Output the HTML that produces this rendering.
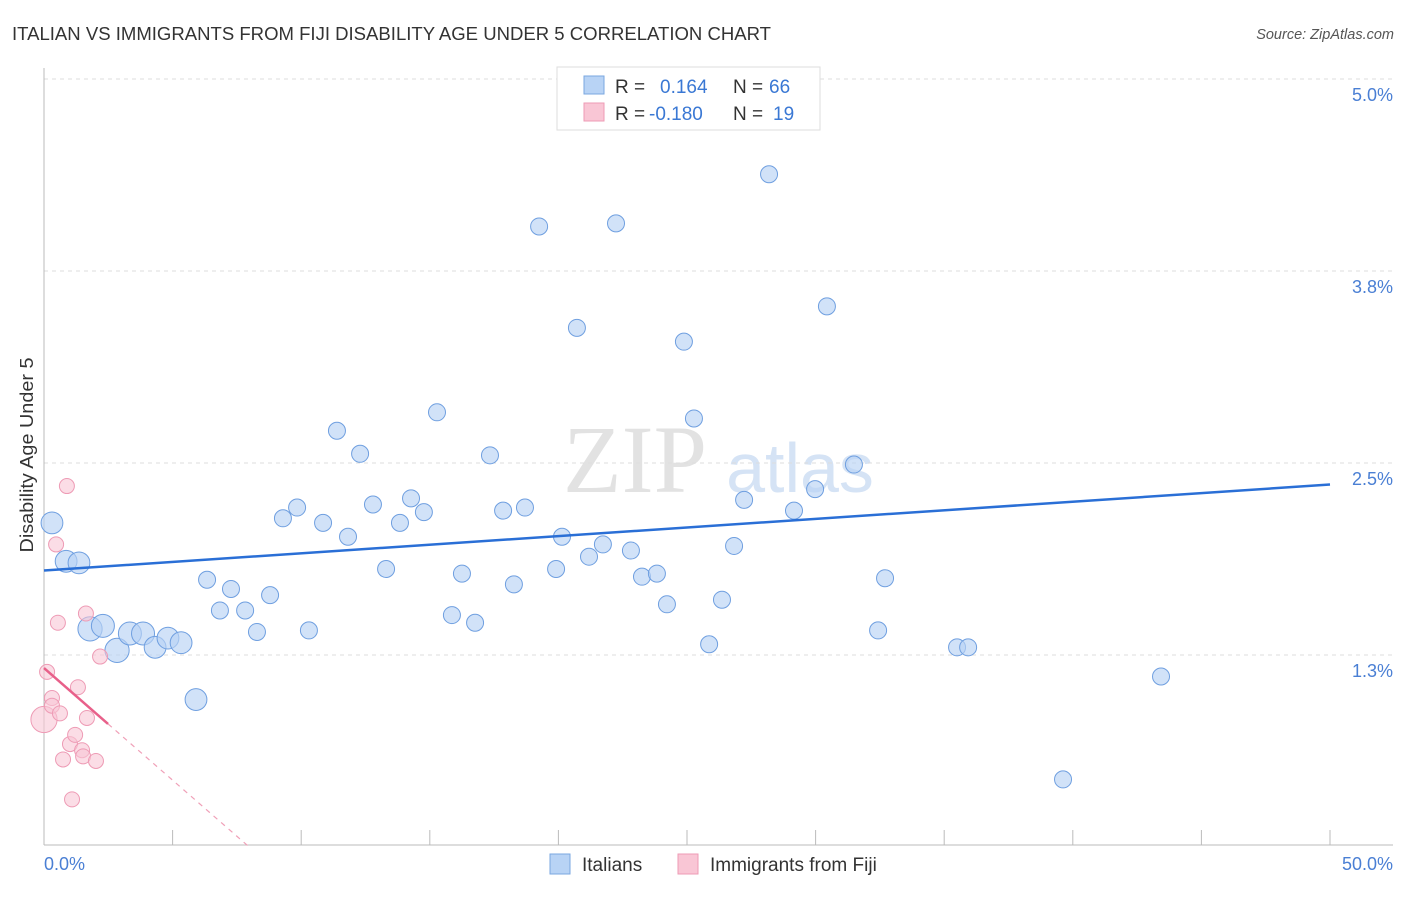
<!DOCTYPE html>
<html><head><meta charset="utf-8"><style>
body{margin:0;background:#fff;font-family:"Liberation Sans",sans-serif;}
svg text{font-family:"Liberation Sans",sans-serif;}
</style></head><body>
<svg width="1406" height="892" viewBox="0 0 1406 892">
<text x="12" y="40" font-size="18" fill="#333" textLength="759" lengthAdjust="spacingAndGlyphs">ITALIAN VS IMMIGRANTS FROM FIJI DISABILITY AGE UNDER 5 CORRELATION CHART</text>
<text x="1394" y="39" font-size="14.5" fill="#555" font-style="italic" text-anchor="end">Source: ZipAtlas.com</text>
<text x="33" y="455" font-size="18" fill="#333" text-anchor="middle" textLength="195" lengthAdjust="spacingAndGlyphs" transform="rotate(-90 33 455)">Disability Age Under 5</text>
<g>
<text x="635" y="492" font-size="96" fill="#e2e2e2" style="font-family:'Liberation Serif',serif" text-anchor="middle">ZIP</text>
<text x="800" y="492" font-size="70" fill="#d5e3f5" text-anchor="middle">atlas</text>
</g>
<g id="grid"></g>
<g id="axes"></g>
<g id="marks"></g>
<g>
<rect x="557" y="67" width="263" height="63" fill="#fff" stroke="#ddd"/>
<rect x="584" y="76" width="20" height="18" fill="#b8d3f5" stroke="#7aa7e0"/>
<text x="615" y="93" font-size="19" fill="#333">R =</text>
<text x="660" y="93" font-size="19" fill="#3a78d4">0.164</text>
<text x="733" y="93" font-size="19" fill="#333">N =</text>
<text x="769" y="93" font-size="19" fill="#3a78d4">66</text>
<rect x="584" y="103" width="20" height="18" fill="#f9c6d5" stroke="#ee9bb5"/>
<text x="615" y="120" font-size="19" fill="#333">R =</text>
<text x="649" y="120" font-size="19" fill="#3a78d4">-0.180</text>
<text x="733" y="120" font-size="19" fill="#333">N =</text>
<text x="773" y="120" font-size="19" fill="#3a78d4">19</text>
</g>
<g>
<rect x="550" y="854" width="20" height="20" fill="#b8d3f5" stroke="#7aa7e0"/>
<text x="582" y="871" font-size="19" fill="#333">Italians</text>
<rect x="678" y="854" width="20" height="20" fill="#f9c6d5" stroke="#ee9bb5"/>
<text x="710" y="871" font-size="19" fill="#333">Immigrants from Fiji</text>
</g>
</svg>
<script>
const blueX=[0.31,0.86,1.36,1.79,2.29,2.84,3.34,3.85,4.32,4.82,5.33,5.91,6.34,6.84,7.27,7.82,8.28,8.79,9.29,9.84,10.30,10.85,11.39,11.82,12.29,12.79,13.30,13.84,14.27,14.77,15.28,15.86,16.25,16.76,17.34,17.85,18.27,18.70,19.25,19.91,20.14,20.72,21.19,21.73,22.24,22.82,23.25,23.83,24.22,24.88,25.27,25.86,26.36,26.83,27.22,28.19,29.16,29.98,30.44,31.49,32.43,32.70,35.50,35.93,39.62,43.43];
const blueY=[2.11,1.86,1.85,1.42,1.44,1.28,1.39,1.39,1.30,1.36,1.33,0.96,1.74,1.54,1.68,1.54,1.40,1.64,2.14,2.21,1.41,2.11,2.71,2.02,2.56,2.23,1.81,2.11,2.27,2.18,2.83,1.51,1.78,1.46,2.55,2.19,1.71,2.21,4.04,1.81,2.02,3.38,1.89,1.97,4.06,1.93,1.76,1.78,1.58,3.29,2.79,1.32,1.61,1.96,2.26,4.38,2.19,2.33,3.52,2.49,1.41,1.75,1.30,1.30,0.44,1.11];
const blueW=[3,3,3,4,3.5,4,3.5,3.5,3,3,3,3];
const pinkX=[0.12,0,0.31,0.31,0.54,0.47,0.62,0.74,0.89,1.09,1.01,1.21,1.32,1.48,1.52,1.67,1.63,2.02,2.18];
const pinkY=[1.14,0.83,0.97,0.92,1.46,1.97,0.87,0.57,2.35,0.31,0.67,0.73,1.04,0.63,0.59,0.84,1.52,0.56,1.24];
const pinkW=[1,4.5];
const blueTrend=[1.80,2.36];
const pinkTrend=[1.165,-0.146];
const yTicks=[1.25,2.5,3.75,5.0];
const yTickLabels=["1.3%","2.5%","3.8%","5.0%"];
const xTickVals=[0,5,10,15,20,25,30,35,40,45,50];
const NS="http://www.w3.org/2000/svg";
const sx=v=>44+v*25.72, sy=v=>847-v*153.6;
function mk(t,a,p){const e=document.createElementNS(NS,t);for(const k in a)e.setAttribute(k,a[k]);p.appendChild(e);return e;}
const grid=document.getElementById('grid'),axes=document.getElementById('axes'),marks=document.getElementById('marks');
yTicks.forEach((v,i)=>{
 const l=mk('line',{x1:44,x2:1393,y1:sy(v),y2:sy(v),stroke:'#ddd','stroke-dasharray':'4,4'},grid);
 
 
 const t=mk('text',{x:1393,y:sy(v)+22,'font-size':18,fill:'#4a7fd4','text-anchor':'end'},axes);
 t.textContent=yTickLabels[i];
 
 
});
const topL=mk('line',{x1:44,x2:1393,y1:79,y2:79,stroke:'#ddd','stroke-dasharray':'4,4'},grid);


const ya=mk('line',{x1:44,x2:44,y1:68,y2:845,stroke:'#bbb'},axes);


const xa=mk('line',{x1:44,x2:1393,y1:845,y2:845,stroke:'#bbb'},axes);


xTickVals.forEach(v=>{
 const t=mk('line',{x1:sx(v),x2:sx(v),y1:830,y2:845,stroke:'#bbb'},axes);
 
 
});
const xl0=mk('text',{x:44,y:870,'font-size':18,fill:'#4a7fd4'},axes);xl0.textContent="0.0%";


const xl1=mk('text',{x:1393,y:870,'font-size':18,fill:'#4a7fd4','text-anchor':'end'},axes);xl1.textContent="50.0%";


blueX.forEach((x,i)=>{
 const r=8.5+((blueW[i]||1)-1)*1.2;
 const c=mk('circle',{cx:sx(x),cy:sy(blueY[i]),r:r,fill:'#b8d3f5','fill-opacity':0.65,stroke:'#6f9fe0','stroke-width':1},marks);
 
 
});
pinkX.forEach((x,i)=>{
 const r=7.5+((pinkW[i]||1)-1)*1.6;
 const c=mk('circle',{cx:sx(x),cy:sy(pinkY[i]),r:r,fill:'#f9c6d5','fill-opacity':0.6,stroke:'#ee9bb5','stroke-width':1},marks);
 
 
});
const bl=mk('line',{x1:sx(0),y1:sy(blueTrend[0]),x2:sx(50),y2:sy(blueTrend[1]),stroke:'#2a6fd6','stroke-width':2.5},marks);


const pEnd=2.49, pZero=-pinkTrend[0]/pinkTrend[1];
const pl=mk('line',{x1:sx(0),y1:sy(pinkTrend[0]),x2:sx(pEnd),y2:sy(pinkTrend[0]+pinkTrend[1]*pEnd),stroke:'#e8608a','stroke-width':2.5},marks);


const pd=mk('line',{x1:sx(pEnd),y1:sy(pinkTrend[0]+pinkTrend[1]*pEnd),x2:sx(pZero),y2:sy(0),stroke:'#f0a0b8','stroke-width':1.2,'stroke-dasharray':'5,5'},marks);


</script>
</body></html>
